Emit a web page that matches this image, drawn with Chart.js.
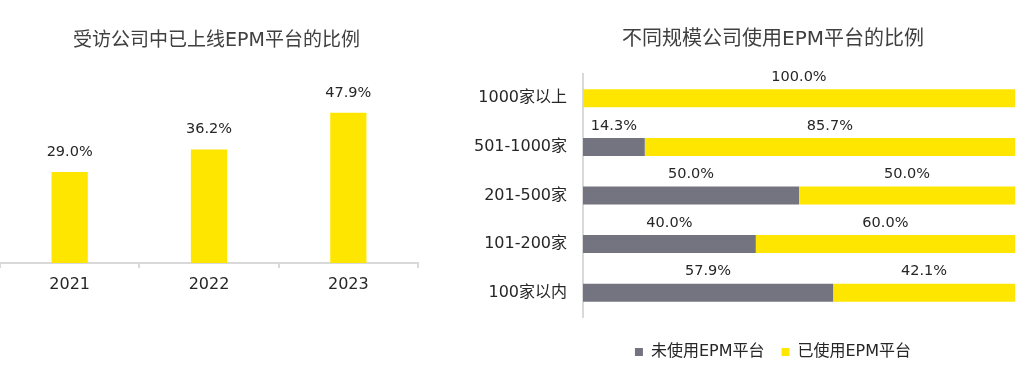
<!DOCTYPE html>
<html><head><meta charset="utf-8">
<script src="https://cdn.jsdelivr.net/npm/chart.js@4.4.0/dist/chart.umd.min.js"></script>
<style>
html,body{margin:0;padding:0;background:#fff;width:1033px;height:380px;overflow:hidden;position:relative;}
#c1{position:absolute;left:0;top:0;}
#c2{position:absolute;left:460px;top:0;}
</style></head><body>
<canvas id="c1" width="440" height="380"></canvas>
<canvas id="c2" width="626" height="380"></canvas>
<script>
const yearLabels = ['2021', '2022', '2023'];
const onlineShare = [29.0, 36.2, 47.9];
const sizeLabels = ['1000家以上', '501-1000家', '201-500家', '101-200家', '100家以内'];
const notUsing = [0, 14.3, 50.0, 40.0, 57.9];
const using = [100.0, 85.7, 50.0, 60.0, 42.1];
const seriesNames = ['未使用EPM平台', '已使用EPM平台'];
const leftTitle = '受访公司中已上线EPM平台的比例';
const rightTitle = '不同规模公司使用EPM平台的比例';

const FONT = '"DejaVu Sans", "Noto Sans CJK SC", sans-serif';
const YELLOW = '#FFE600';
const GRAY = '#747480';
const TEXT = '#262626';

const barLabels = {
  id: 'barLabels',
  afterDatasetsDraw(chart, args, opts) {
    const ctx = chart.ctx;
    ctx.save();
    ctx.font = opts.size + 'px ' + FONT;
    ctx.fillStyle = opts.color;
    ctx.textAlign = 'center';
    ctx.textBaseline = 'middle';
    chart.data.datasets.forEach((ds, di) => {
      const meta = chart.getDatasetMeta(di);
      meta.data.forEach((el, i) => {
        const v = ds.data[i];
        if (!v) return;
        const p = el.getProps(['x', 'y', 'base', 'height', 'width'], true);
        let tx, ty;
        if (opts.horizontal) {
          tx = (p.x + p.base) / 2;
          ty = p.y - p.height / 2 - opts.offset;
        } else {
          tx = p.x;
          ty = p.y - opts.offset;
        }
        ctx.fillText(v.toFixed(1) + '%', tx, ty);
      });
    });
    ctx.restore();
  }
};

new Chart(document.getElementById('c1'), {
  type: 'bar',
  data: {
    labels: yearLabels,
    datasets: [{ data: onlineShare, backgroundColor: YELLOW, borderWidth: 0, barPercentage: 0.26, categoryPercentage: 1 }]
  },
  options: {
    responsive: false, animation: false,
    layout: { padding: { left: 0, right: 7, top: 0, bottom: 0 } },
    plugins: {
      legend: { display: false },
      tooltip: { enabled: false },
      title: { display: true, text: leftTitle, font: { family: FONT, size: 19, weight: 'normal' }, color: '#404040', padding: { top: 30, bottom: 22 } },
      barLabels: { size: 14.5, color: TEXT, offset: 20 }
    },
    scales: {
      x: {
        grid: { display: true, drawOnChartArea: false, drawTicks: true, tickLength: 5, color: '#d9d9d9', lineWidth: 2, offset: true },
        border: { display: true, color: '#d9d9d9', width: 2 },
        ticks: { font: { family: FONT, size: 16 }, color: TEXT, padding: 7 },
        afterFit(s) { s.height = 117; }
      },
      y: {
        position: 'right', min: 0, max: 60,
        ticks: { display: false }, grid: { display: false }, border: { display: false },
        afterFit(s) { s.width = 15; }
      }
    }
  },
  plugins: [barLabels]
});

new Chart(document.getElementById('c2'), {
  type: 'bar',
  data: {
    labels: sizeLabels,
    datasets: [
      { label: seriesNames[0], data: notUsing, backgroundColor: GRAY, borderWidth: 0, barPercentage: 0.37, categoryPercentage: 1 },
      { label: seriesNames[1], data: using, backgroundColor: YELLOW, borderWidth: 0, barPercentage: 0.37, categoryPercentage: 1 }
    ]
  },
  options: {
    indexAxis: 'y', responsive: false, animation: false,
    layout: { padding: { left: 0, right: 0, top: 0, bottom: 10 } },
    plugins: {
      legend: { position: 'bottom', labels: { boxWidth: 8, boxHeight: 8, padding: 17, font: { family: FONT, size: 16 }, color: TEXT } },
      tooltip: { enabled: false },
      title: { display: true, text: rightTitle, font: { family: FONT, size: 20, weight: 'normal' }, color: '#404040', padding: { top: 28, bottom: 22 } },
      barLabels: { horizontal: true, size: 14.5, color: TEXT, offset: 12 }
    },
    scales: {
      x: {
        stacked: true, min: 0, max: 100,
        ticks: { display: false }, grid: { display: false }, border: { display: false },
        afterFit(s) { s.height = 10; }
      },
      y: {
        stacked: true,
        grid: { display: true, drawOnChartArea: false, drawTicks: false },
        border: { display: true, color: '#d9d9d9', width: 2 },
        ticks: { font: { family: FONT, size: 16 }, color: TEXT, padding: 16 },
        afterFit(s) { s.width = 123; }
      },
      y2: {
        type: 'category', position: 'right',
        ticks: { display: false }, grid: { display: false }, border: { display: false },
        afterFit(s) { s.width = 71; }
      }
    }
  },
  plugins: [barLabels]
});
</script>
</body></html>
